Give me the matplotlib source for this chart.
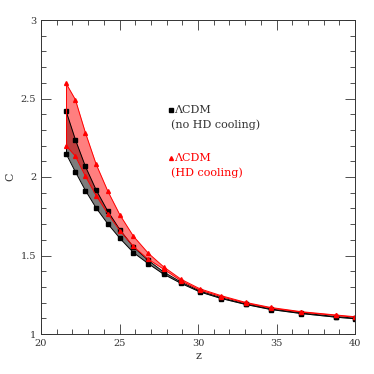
import matplotlib
matplotlib.use('Agg')
import matplotlib.pyplot as plt
from matplotlib.ticker import MultipleLocator

# redshift samples
z = [21.6, 22.19, 22.83, 23.51, 24.26, 25.03, 25.88, 26.82, 27.81, 28.93,
     30.12, 31.48, 33.04, 34.63, 36.59, 38.79, 40.0]

# LCDM with HD cooling (red band)
red_hi = [2.596, 2.493, 2.282, 2.082, 1.909, 1.758, 1.624, 1.516, 1.428, 1.348,
          1.288, 1.244, 1.201, 1.169, 1.142, 1.121, 1.110]
red_lo = [2.199, 2.133, 2.005, 1.882, 1.765, 1.658, 1.558, 1.477, 1.413, 1.338,
          1.280, 1.238, 1.197, 1.165, 1.139, 1.118, 1.107]

# LCDM without HD cooling (black band)
black_hi = [2.419, 2.238, 2.067, 1.918, 1.781, 1.663, 1.555, 1.470, 1.395, 1.330,
            1.274, 1.231, 1.192, 1.160, 1.134, 1.111, 1.101]
black_lo = [2.148, 2.033, 1.914, 1.803, 1.701, 1.609, 1.519, 1.449, 1.381, 1.322,
            1.268, 1.226, 1.188, 1.156, 1.130, 1.107, 1.097]

plt.rcParams['font.family'] = ['DejaVu Serif']
txt = '#333333'

fig = plt.figure(figsize=(3.74, 3.74), dpi=100)
ax = fig.add_axes([41/374, 40/374, 314/374, 314/374])

ax.fill_between(z, black_lo, black_hi, color='#666666', alpha=0.85, lw=0)
ax.plot(z, black_hi, color='black', lw=0.7, marker='s', ms=2.5)
ax.plot(z, black_lo, color='black', lw=0.7, marker='s', ms=2.5)
ax.plot([z[0], z[0]], [black_lo[0], black_hi[0]], color='black', lw=0.7)

ax.fill_between(z, red_lo, red_hi, color='red', alpha=0.5, lw=0)
ax.plot(z, red_hi, color='red', lw=0.7, marker='^', ms=2.8)
ax.plot(z, red_lo, color='red', lw=0.7, marker='^', ms=2.8)
ax.plot([z[0], z[0]], [red_lo[0], red_hi[0]], color='red', lw=0.7)

ax.set_xlim(20, 40)
ax.set_ylim(1, 3)
ax.xaxis.set_major_locator(MultipleLocator(5))
ax.xaxis.set_minor_locator(MultipleLocator(1))
ax.yaxis.set_major_locator(MultipleLocator(0.5))
ax.yaxis.set_minor_locator(MultipleLocator(0.1))
ax.tick_params(which='both', direction='in', top=True, right=True,
               labelsize=7, colors=txt, width=0.6)
ax.tick_params(which='major', length=7)
ax.tick_params(which='minor', length=3.5)
for s in ax.spines.values():
    s.set_linewidth(0.7)
    s.set_color(txt)
ax.set_xticks([20, 25, 30, 35, 40])
ax.set_xticklabels(['20', '25', '30', '35', '40'])
ax.set_yticks([1, 1.5, 2, 2.5, 3])
ax.set_yticklabels(['1', '1.5', '2', '2.5', '3'])

ax.set_xlabel('z', fontsize=8, color=txt, labelpad=2)
ax.set_ylabel('C', fontsize=8, color=txt, labelpad=4)

ax.plot([28.25], [2.425], marker='s', color='black', ms=2.5)
ax.text(28.5, 2.425, '\u039bCDM', fontsize=8, color=txt, va='center')
ax.text(28.3, 2.33, '(no HD cooling)', fontsize=8, color=txt, va='center')
ax.plot([28.25], [2.12], marker='^', color='red', ms=2.8)
ax.text(28.5, 2.12, '\u039bCDM', fontsize=8, color='red', va='center')
ax.text(28.3, 2.025, '(HD cooling)', fontsize=8, color='red', va='center')

fig.savefig('out.png', dpi=100)
